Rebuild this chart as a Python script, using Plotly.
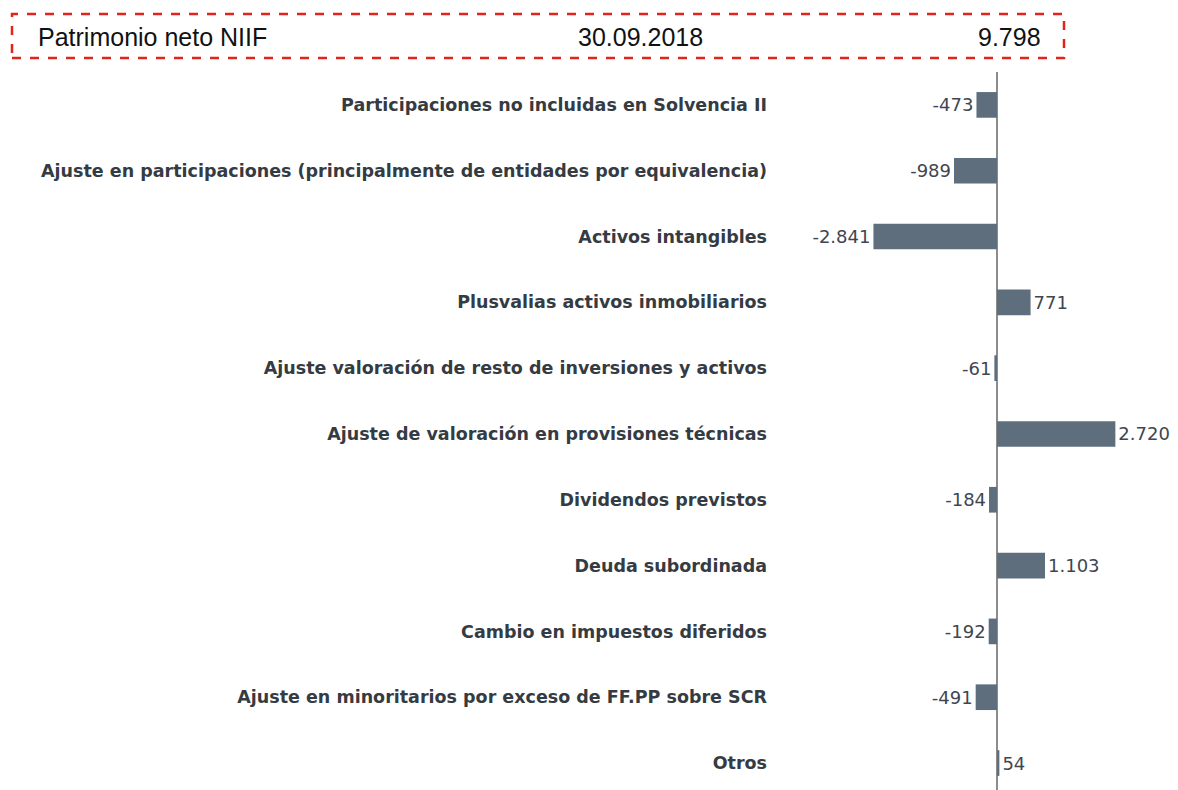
import plotly.graph_objects as go

categories = [
    "Participaciones no incluidas en Solvencia II",
    "Ajuste en participaciones (principalmente de entidades por equivalencia)",
    "Activos intangibles",
    "Plusvalias activos inmobiliarios",
    "Ajuste valoración de resto de inversiones y activos",
    "Ajuste de valoración en provisiones técnicas",
    "Dividendos previstos",
    "Deuda subordinada",
    "Cambio en impuestos diferidos",
    "Ajuste en minoritarios por exceso de FF.PP sobre SCR",
    "Otros",
]
values = [-473, -989, -2841, 771, -61, 2720, -184, 1103, -192, -491, 54]
header_label = "Patrimonio neto NIIF"
header_date = "30.09.2018"
header_value = 9798

def fmt(v):
    return f"{v:,}".replace(",", ".")

# page has an 8px body margin
OFF = 8
W, H = 1178 - OFF, 790 - OFF
L, R, T, B = 780 - OFF, 0, 72 - OFF, 0

fig = go.Figure()
fig.add_trace(go.Bar(
    y=categories, x=values, orientation="h",
    marker=dict(color="#5f6e7c", line=dict(width=0)),
    width=0.39,
    text=[fmt(v) for v in values], textposition="outside",
    textfont=dict(family="DejaVu Sans", size=18, color="#3f4650"),
    cliponaxis=False, constraintext="none",
))

def px_x(p):
    return (p - OFF - L) / (W - L - R)

def px_y(p):
    return (H - B - (p - OFF)) / (H - T - B)

fig.add_shape(type="rect", xref="paper", yref="paper",
              x0=px_x(12), x1=px_x(1064), y0=px_y(58), y1=px_y(14),
              line=dict(color="#e0261c", width=2.5, dash="dash"))
hf = dict(family="Liberation Sans, Arial", size=25, color="#111111")
fig.add_annotation(text=header_label, xref="paper", yref="paper", x=px_x(36), y=px_y(37),
                   xanchor="left", yanchor="middle", showarrow=False, font=hf)
fig.add_annotation(text=header_date, xref="paper", yref="paper", x=px_x(640), y=px_y(37),
                   xanchor="center", yanchor="middle", showarrow=False, font=hf)
fig.add_annotation(text=fmt(header_value), xref="paper", yref="paper", x=px_x(1043), y=px_y(37),
                   xanchor="right", yanchor="middle", showarrow=False, font=hf)

fig.update_layout(
    width=W, height=H,
    margin=dict(l=L, r=R, t=T, b=B),
    paper_bgcolor="white", plot_bgcolor="white",
    showlegend=False,
    xaxis=dict(range=[-4989, 4160], showgrid=False, zeroline=True, zerolinecolor="#8c8c8c",
               zerolinewidth=1.5, showticklabels=False, ticks=""),
    yaxis=dict(range=[10.41, -0.5], showgrid=False, zeroline=False, showline=False,
               tickfont=dict(family="DejaVu Sans", size=17.5, color="#353b42", weight="bold"),
               ticks="", ticklabelstandoff=12),
)
fig.write_html("out.html")
